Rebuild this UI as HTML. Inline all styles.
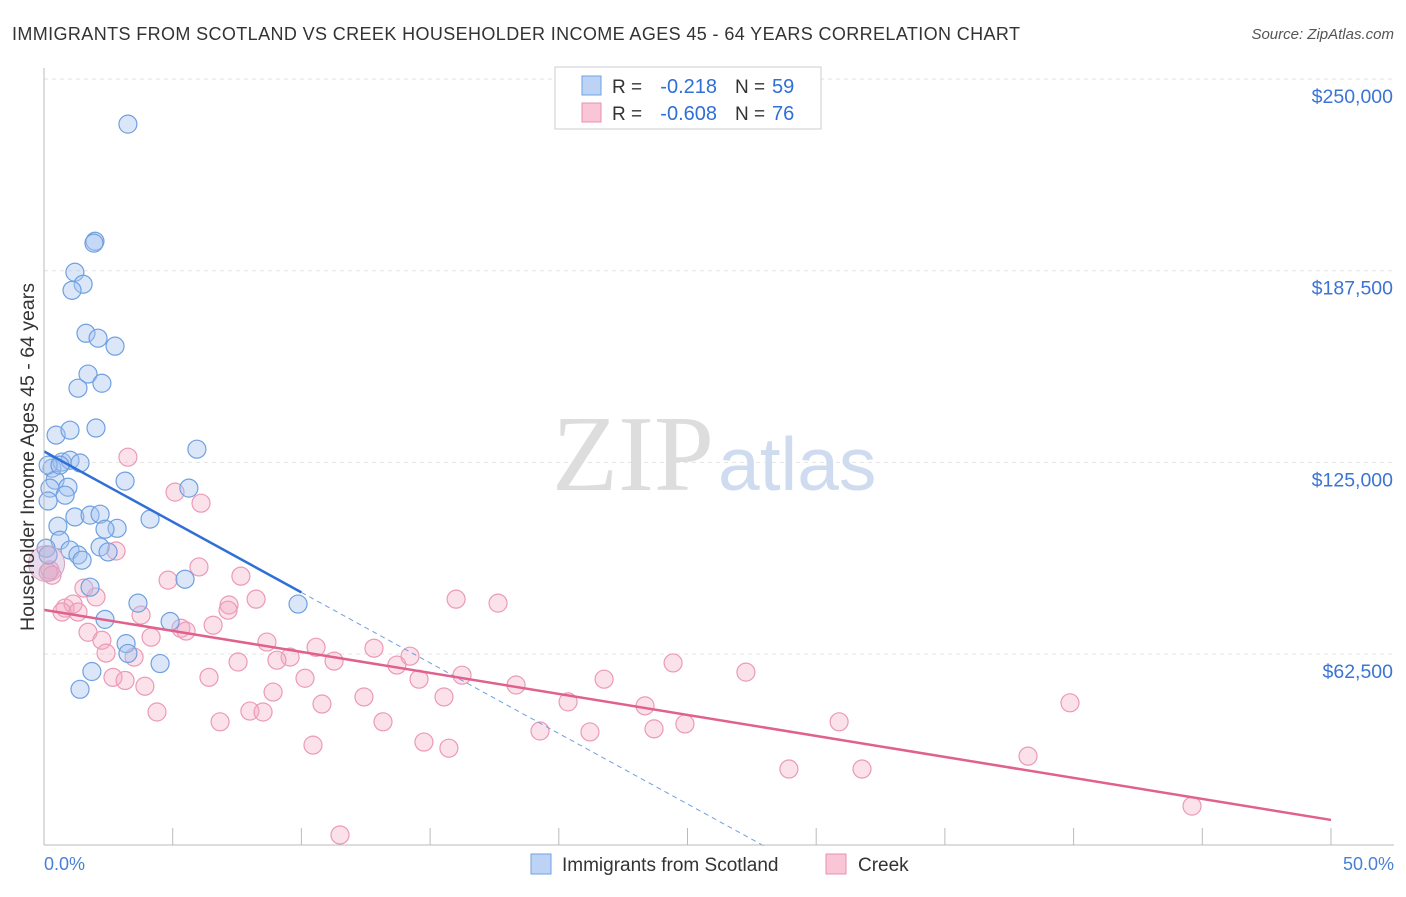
<!DOCTYPE html>
<html><head><meta charset="utf-8"><style>
body{margin:0;background:#fff;font-family:"Liberation Sans",sans-serif}
</style></head><body>
<svg width="1406" height="892" xmlns="http://www.w3.org/2000/svg">
<text x="12" y="40" font-size="18" fill="#333" textLength="1008" lengthAdjust="spacing">IMMIGRANTS FROM SCOTLAND VS CREEK HOUSEHOLDER INCOME AGES 45 - 64 YEARS CORRELATION CHART</text>
<text x="1394" y="39" font-size="15" fill="#555" font-style="italic" text-anchor="end">Source: ZipAtlas.com</text>
<g id="grid"></g>
<text x="714" y="490" font-size="108" fill="#ddd" text-anchor="end" font-family="Liberation Serif">ZIP</text>
<text x="718" y="490" font-size="75" fill="#cfdcf0">atlas</text>
<g id="pts"></g>
<g id="lines"></g>
<line x1="44" y1="68" x2="44" y2="845" stroke="#bbb"/>
<line x1="44" y1="845" x2="1394" y2="845" stroke="#bbb"/>
<g id="xt"></g>
<text x="44" y="870" font-size="18" fill="#4a7fd6">0.0%</text>
<text x="1394" y="870" font-size="18" fill="#4a7fd6" text-anchor="end">50.0%</text>
<text transform="translate(34,457) rotate(-90)" font-size="19.5" fill="#333" text-anchor="middle">Householder Income Ages 45 - 64 years</text>
<g>
<rect x="555" y="67" width="266" height="62" fill="#fff" stroke="#ccc"/>
<rect x="582" y="76" width="19" height="19" fill="#bcd3f5" stroke="#6fa0e0"/>
<rect x="582" y="103" width="19" height="19" fill="#f9c6d6" stroke="#e890b0"/>
<text x="612" y="93" font-size="19" fill="#333">R =</text>
<text x="717" y="93" font-size="20" fill="#2f6fd6" text-anchor="end">-0.218</text>
<text x="735" y="93" font-size="19" fill="#333">N =</text>
<text x="772" y="93" font-size="20" fill="#2f6fd6">59</text>
<text x="612" y="120" font-size="19" fill="#333">R =</text>
<text x="717" y="120" font-size="20" fill="#2f6fd6" text-anchor="end">-0.608</text>
<text x="735" y="120" font-size="19" fill="#333">N =</text>
<text x="772" y="120" font-size="20" fill="#2f6fd6">76</text>
</g>
<g>
<rect x="531" y="854" width="20" height="20" fill="#bcd3f5" stroke="#6fa0e0"/>
<text x="562" y="871" font-size="19" fill="#333">Immigrants from Scotland</text>
<rect x="826" y="854" width="20" height="20" fill="#f9c6d6" stroke="#e890b0"/>
<text x="858" y="871" font-size="19" fill="#333">Creek</text>
</g>
</svg>
<script>
const yTicks=[62500,125000,187500,250000];
const yTickLabels=["$62,500","$125,000","$187,500","$250,000"];
const blueX=[3.26,1.98,1.94,1.20,1.52,1.09,1.63,2.10,2.76,1.71,2.25,1.32,0.47,1.01,2.02,5.94,0.31,0.70,1.01,1.40,0.16,0.43,0.23,0.93,0.82,3.15,0.16,1.20,1.79,2.18,4.12,0.54,2.84,2.37,0.62,1.01,2.18,2.49,1.32,1.48,0.08,5.63,1.79,5.48,3.65,9.87,2.37,4.90,3.19,3.26,4.51,1.86,1.40,0.16,0.62];
const blueY=[235.3,197.1,196.5,187.0,183.1,181.1,167.1,165.5,162.9,153.8,150.8,149.2,133.9,135.5,136.2,129.3,123.1,125.1,125.7,124.8,124.1,119.2,116.6,116.9,114.3,118.9,112.4,107.2,107.8,108.1,106.5,104.2,103.5,103.2,99.6,96.4,97.4,95.8,94.8,93.1,97.0,116.6,84.3,86.9,79.1,78.8,73.8,73.1,65.9,62.7,59.4,56.8,51.0,94.8,124.1];
const pinkX=[3.26,5.09,6.10,2.80,0.23,6.02,4.82,7.65,1.55,2.02,0.82,1.13,0.70,1.32,8.24,7.19,7.15,3.77,6.57,5.32,4.16,5.52,1.71,2.25,2.41,3.50,8.66,10.57,9.56,9.05,7.54,11.27,12.82,13.71,14.22,14.57,16.24,2.68,3.15,6.41,10.14,3.92,8.90,12.43,15.54,18.34,21.76,24.44,27.27,10.80,20.36,23.35,4.39,6.84,8.00,8.51,13.17,19.27,21.21,23.70,24.90,30.89,39.86,10.45,14.76,15.73,28.94,31.78,38.23,44.60,11.50,16.01,17.64,0.16,0.31];
const pinkY=[126.7,115.3,111.7,96.1,89.9,90.9,86.6,87.9,84.0,81.1,77.5,78.8,76.2,76.2,80.4,78.5,76.8,75.2,71.9,70.9,68.0,70.0,69.6,67.0,62.8,61.5,66.4,64.7,61.5,60.5,59.9,60.2,64.4,58.9,61.8,54.3,55.6,54.9,53.9,54.9,54.6,52.0,50.1,48.5,48.5,52.4,54.3,59.6,56.6,46.2,46.9,45.6,43.6,40.4,43.9,43.6,40.4,37.4,37.1,38.1,39.7,40.4,46.6,32.8,33.8,31.8,25.0,25.0,29.2,12.9,3.5,80.4,79.1,89.2,88.2];
const blueTrend=[128.6,82.6];
const pinkTrend=[76.9,8.4];
const X=p=>44+p*25.74;
const Y=k=>845.7-k*1000/326.1;
const ns="http://www.w3.org/2000/svg";
function mk(t,a,parent){const e=document.createElementNS(ns,t);for(const k in a)e.setAttribute(k,a[k]);document.getElementById(parent).appendChild(e);return e;}
yTicks.forEach((v,i)=>{
 const l=mk('line',{x1:44,x2:1394,y1:Y(v/1000),y2:Y(v/1000),stroke:'#e4e4e4','stroke-dasharray':'4,4'},'grid');
 
 
 const t=mk('text',{x:1393,y:Y(v/1000)+24,'font-size':19.5,fill:'#3b74d4','text-anchor':'end'},'grid');
 t.textContent=yTickLabels[i];
 
 
});
mk('line',{x1:44,x2:1394,y1:79,y2:79,stroke:'#e4e4e4','stroke-dasharray':'4,4'},'grid');
for(let i=1;i<=10;i++){
 const l=mk('line',{x1:X(i*5),x2:X(i*5),y1:828,y2:845,stroke:'#bbb'},'xt');
 
 
}
pinkX.forEach((x,i)=>{
 const c=mk('circle',{cx:X(x),cy:Y(pinkY[i]),r:9,fill:'rgba(244,170,195,0.35)',stroke:'#eb9ab6','stroke-width':1.2},'pts');
 
 
});
blueX.forEach((x,i)=>{
 const c=mk('circle',{cx:X(x),cy:Y(blueY[i]),r:9,fill:'rgba(164,196,240,0.4)',stroke:'#6fa0e0','stroke-width':1.2},'pts');
 
 
});
let big=mk('circle',{cx:X(0.1),cy:Y(92),r:18,fill:'rgba(200,170,210,0.4)',stroke:'#d8a0c0'},'pts');


const bs=(blueTrend[1]-blueTrend[0])/10, x0=-blueTrend[0]/bs;
let l1=mk('line',{x1:X(0),y1:Y(blueTrend[0]),x2:X(10),y2:Y(blueTrend[1]),stroke:'#2f6fd6','stroke-width':2.5},'lines');


let l2=mk('line',{x1:X(10),y1:Y(blueTrend[1]),x2:X(x0),y2:Y(0),stroke:'#6f9fe0','stroke-width':1,'stroke-dasharray':'5,4'},'lines');


let l3=mk('line',{x1:X(0),y1:Y(pinkTrend[0]),x2:X(50),y2:Y(pinkTrend[1]),stroke:'#e0608e','stroke-width':2.5},'lines');


</script>
</body></html>
